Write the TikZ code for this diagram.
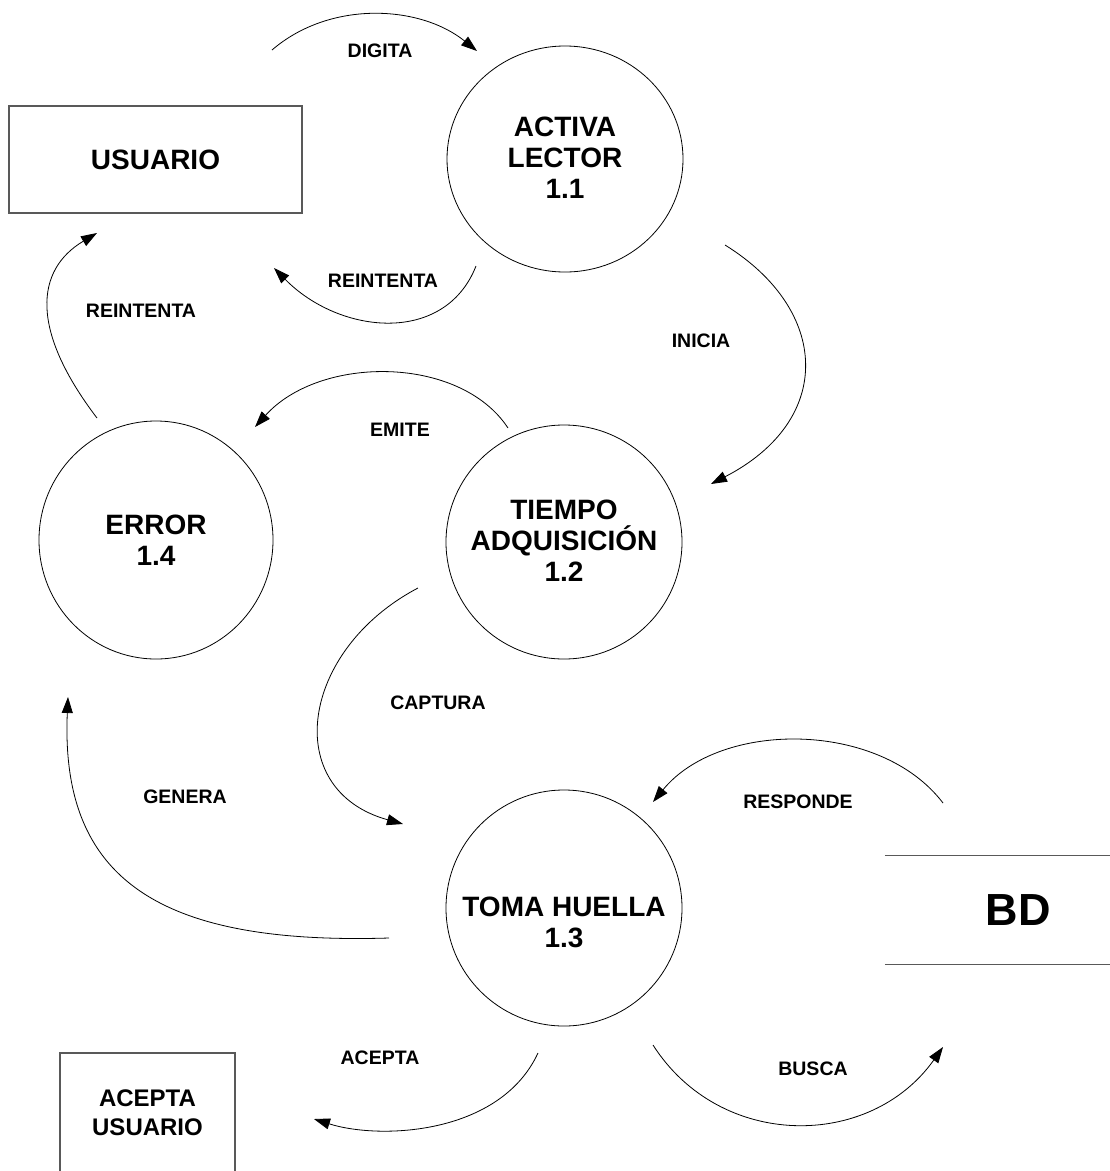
\documentclass[tikz,border=0pt]{standalone}
\usepackage{fontspec}
\setmainfont{Liberation Sans}
\usetikzlibrary{arrows.meta,shapes.geometric}
\begin{document}
\begin{tikzpicture}[x=1pt,y=-1pt,
  proc/.style={draw=black,line width=0.8pt,ellipse,inner sep=0pt},
  ptext/.style={font=\fontsize{28}{31}\selectfont\bfseries,align=center,inner sep=0pt},
  ent/.style={draw=black!65,line width=1.2pt,rectangle,inner sep=0pt,font=\fontsize{28}{31}\selectfont\bfseries,align=center},
  lab/.style={font=\fontsize{19.5}{22}\selectfont\bfseries,inner sep=0pt},
  flow/.style={draw=black,line width=0.8pt,-{Triangle[length=16pt,width=11pt]}}]
\useasboundingbox (0,0) rectangle (1110,1171);
\clip (0,0) rectangle (1110,1171);

% entities
\node[ent,minimum width=293pt,minimum height=107pt] (usuario) at (155.5,159.5) {USUARIO};
\node[ent,minimum width=175pt,minimum height=120pt,font=\fontsize{24}{29}\selectfont\bfseries] (acepta) at (147.5,1113) {ACEPTA\\USUARIO};
\node[rectangle,inner sep=0pt,minimum width=266pt,minimum height=108pt,font=\fontsize{45}{50}\selectfont\bfseries] (bd) at (1018,910) {BD};
\draw[draw=black!65,line width=1.2pt] (bd.north west) -- (bd.north east);
\draw[draw=black!65,line width=1.2pt] (bd.south west) -- (bd.south east);

% processes
\node[proc,minimum width=236pt,minimum height=226pt] (p11) at (565,159) {};
\node[ptext] (t11) at (565,158) {ACTIVA\\LECTOR\\1.1};
\node[proc,minimum width=236pt,minimum height=234pt] (p12) at (564,542) {};
\node[ptext] (t12) at (564,541) {TIEMPO\\ADQUISICIÓN\\1.2};
\node[proc,minimum width=234pt,minimum height=238pt] (p14) at (156,540) {};
\node[ptext] (t14) at (156,540) {ERROR\\1.4};
\node[proc,minimum width=236pt,minimum height=236pt] (p13) at (564,908) {};
\node[ptext] (t13) at (564,922) {TOMA HUELLA\\1.3};

% connector end points
\coordinate (dg1) at (272,50);   \coordinate (dg2) at (477,51);
\coordinate (ri1) at (476,266);  \coordinate (ri2) at (274,268);
\coordinate (in1) at (725,245);  \coordinate (in2) at (711,484);
\coordinate (em1) at (508,428);  \coordinate (em2) at (255,427);
\coordinate (rl1) at (97,418);   \coordinate (rl2) at (97,233);
\coordinate (ca1) at (418,588);  \coordinate (ca2) at (403,824);
\coordinate (ge1) at (389,938);  \coordinate (ge2) at (68,697);
\coordinate (re1) at (943,803);  \coordinate (re2) at (653,802);
\coordinate (ac1) at (538,1053); \coordinate (ac2) at (314,1119);
\coordinate (bu1) at (653,1045); \coordinate (bu2) at (943,1047);

% connectors
\draw[flow] (dg1) .. controls (330,0) and (420,5) .. (dg2);
\draw[flow] (ri1) .. controls (445,345) and (340,335) .. (ri2);
\draw[flow] (in1) .. controls (830,310) and (835,420) .. (in2);
\draw[flow] (em1) .. controls (460,355) and (320,355) .. (em2);
\draw[flow] (rl1) .. controls (30,330) and (35,270) .. (rl2);
\draw[flow] (ca1) .. controls (300,650) and (280,790) .. (ca2);
\draw[flow] (ge1) .. controls (160,945) and (60,880) .. (ge2);
\draw[flow] (re1) .. controls (880,720) and (720,720) .. (re2);
\draw[flow] (ac1) .. controls (500,1135) and (380,1140) .. (ac2);
\draw[flow] (bu1) .. controls (720,1150) and (870,1150) .. (bu2);

% labels
\node[lab] (lDigita) at (380,51) {DIGITA};
\node[lab] (lReint1) at (383,281) {REINTENTA};
\node[lab] (lInicia) at (701,341) {INICIA};
\node[lab] (lEmite) at (400,430) {EMITE};
\node[lab] (lReint2) at (141,311) {REINTENTA};
\node[lab] (lCaptura) at (438,703) {CAPTURA};
\node[lab] (lGenera) at (185,797) {GENERA};
\node[lab] (lResp) at (798,802) {RESPONDE};
\node[lab] (lAcepta) at (380,1058) {ACEPTA};
\node[lab] (lBusca) at (813,1069) {BUSCA};
\end{tikzpicture}
\end{document}
